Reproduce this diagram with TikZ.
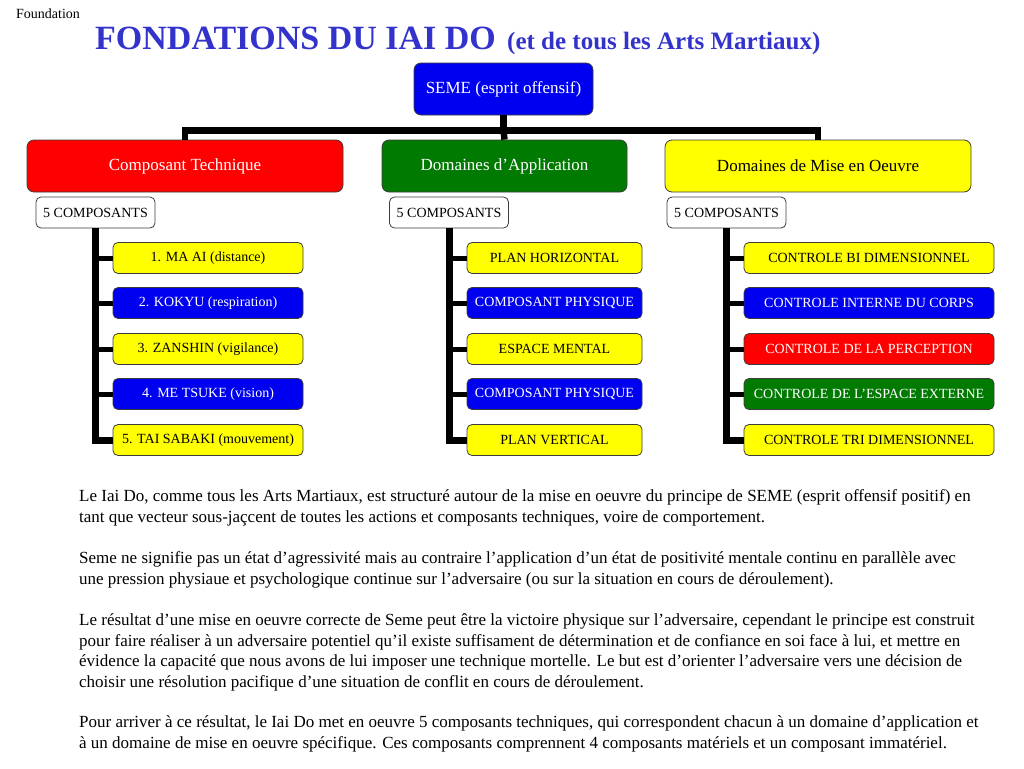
\documentclass[tikz,border=0pt]{standalone}
\usepackage{fontspec}
\setmainfont{Liberation Serif}
\newfontfamily\bodyfont{Liberation Serif}
\definecolor{titleblue}{RGB}{51,51,204}
\definecolor{bxblue}{RGB}{0,0,240}
\definecolor{bxred}{RGB}{255,0,0}
\definecolor{bxgreen}{RGB}{0,122,0}
\definecolor{bxyellow}{RGB}{255,255,0}
\definecolor{bxborder}{RGB}{60,60,60}
\tikzset{
  box/.style={draw=bxborder, line width=0.8pt, rounded corners=5pt, inner sep=0pt, align=center},
  bigbox/.style={box, font=\fontsize{17}{20}\selectfont, rounded corners=7pt},
  item/.style={box, font=\fontsize{14}{16}\selectfont, minimum width=#1, minimum height=31pt},
  yel/.style={fill=bxyellow, text=black},
  blu/.style={fill=bxblue, text=white},
  rd/.style={fill=bxred, text=white},
  grn/.style={fill=bxgreen, text=white},
  cmp/.style={box, fill=white, font=\fontsize{14}{16}\selectfont, minimum width=119pt, minimum height=31pt},
  conn/.style={draw=black, line width=6.5pt},
  stub/.style={draw=black, line width=5pt},
  body/.style={anchor=base west, inner sep=0pt, font=\bodyfont\fontsize{17}{20}\selectfont}
}
\begin{document}
\begin{tikzpicture}[x=1pt,y=-1pt]
\useasboundingbox (0,0) rectangle (1024,768);
\node[anchor=base west, inner sep=0pt, font=\fontsize{14}{16}\selectfont] (found) at (16,19) {Foundation};
\node[anchor=base west, inner sep=0pt, text=titleblue, font=\bfseries\fontsize{34}{38}\selectfont] (title) at (95,49) {FONDATIONS DU IAI DO};
\node[anchor=base west, inner sep=0pt, text=titleblue, font=\bfseries\fontsize{25}{28}\selectfont] (subtitle) at (507,49) {(et de tous les Arts Martiaux)};

% top level
\node[bigbox, blu, minimum width=179pt, minimum height=52pt] (seme) at (503.5,89) {SEME (esprit offensif)};
\node[bigbox, rd, minimum width=316pt, minimum height=52pt] (ct) at (185,166) {Composant Technique};
\node[bigbox, grn, minimum width=245pt, minimum height=52pt] (da) at (504.5,166) {Domaines d’Application};
\node[bigbox, yel, minimum width=306pt, minimum height=52pt] (dm) at (818,166) {Domaines de Mise en Oeuvre};

\draw[conn] (seme.south) -- ++(0,15) coordinate (hub);
\draw[conn] (hub) -| (ct.north);
\draw[conn] (hub) -| (dm.north);
\draw[conn] (hub) -- (da.north);

% composants boxes
\node[cmp] (cL) at (95.5,212.5) {5 COMPOSANTS};
\node[cmp] (cM) at (449,212.5) {5 COMPOSANTS};
\node[cmp] (cR) at (726.5,212.5) {5 COMPOSANTS};

% left items
\node[item=190pt, yel] (l1) at (208,258) {1. MA AI (distance)};
\node[item=190pt, blu] (l2) at (208,303) {2. KOKYU (respiration)};
\node[item=190pt, yel] (l3) at (208,349) {3. ZANSHIN (vigilance)};
\node[item=190pt, blu] (l4) at (208,394) {4. ME TSUKE (vision)};
\node[item=190pt, yel] (l5) at (208,440) {5. TAI SABAKI (mouvement)};

% middle items
\node[item=175pt, yel] (m1) at (554.5,258) {PLAN HORIZONTAL};
\node[item=175pt, blu] (m2) at (554.5,303) {COMPOSANT PHYSIQUE};
\node[item=175pt, yel] (m3) at (554.5,349) {ESPACE MENTAL};
\node[item=175pt, blu] (m4) at (554.5,394) {COMPOSANT PHYSIQUE};
\node[item=175pt, yel] (m5) at (554.5,440) {PLAN VERTICAL};

% right items
\node[item=250pt, yel] (r1) at (869,258) {CONTROLE BI DIMENSIONNEL};
\node[item=250pt, blu] (r2) at (869,303) {CONTROLE INTERNE DU CORPS};
\node[item=250pt, rd] (r3) at (869,349) {CONTROLE DE LA PERCEPTION};
\node[item=250pt, grn] (r4) at (869,394) {CONTROLE DE L’ESPACE EXTERNE};
\node[item=250pt, yel] (r5) at (869,440) {CONTROLE TRI DIMENSIONNEL};

% list connectors
\draw[conn, line width=7pt] (cL.south) |- (l5.west);
\draw[conn, line width=7pt] (cM.south) |- (m5.west);
\draw[conn, line width=7pt] (cR.south) |- (r5.west);
\foreach \k in {1,2,3,4}{
  \draw[stub] (cL.south |- l\k.west) -- (l\k.west);
  \draw[stub] (cM.south |- m\k.west) -- (m\k.west);
  \draw[stub] (cR.south |- r\k.west) -- (r\k.west);
}

% body text
\node[body] (t1) at (79,501) {Le Iai Do, comme tous les Arts Martiaux, est structuré autour de la mise en oeuvre du principe de SEME (esprit offensif positif) en};
\node[body] (t2) at (79,522) {tant que vecteur sous-jaçcent de toutes les actions et composants techniques, voire de comportement.};
\node[body] (t3) at (79,563) {Seme ne signifie pas un état d’agressivité mais au contraire l’application d’un état de positivité mentale continu en parallèle avec};
\node[body] (t4) at (79,584) {une pression physiaue et psychologique continue sur l’adversaire (ou sur la situation en cours de déroulement).};
\node[body] (t5) at (79,625) {Le résultat d’une mise en oeuvre correcte de Seme peut être la victoire physique sur l’adversaire, cependant le principe est construit};
\node[body] (t6) at (79,646) {pour faire réaliser à un adversaire potentiel qu’il existe suffisament de détermination et de confiance en soi face à lui, et mettre en};
\node[body] (t7) at (79,666) {évidence la capacité que nous avons de lui imposer une technique mortelle. Le but est d’orienter l’adversaire vers une décision de};
\node[body] (t8) at (79,687) {choisir une résolution pacifique d’une situation de conflit en cours de déroulement.};
\node[body] (t9) at (79,727) {Pour arriver à ce résultat, le Iai Do met en oeuvre 5 composants techniques, qui correspondent chacun à un domaine d’application et};
\node[body] (t10) at (79,748) {à un domaine de mise en oeuvre spécifique. Ces composants comprennent 4 composants matériels et un composant immatériel.};
\end{tikzpicture}
\end{document}
